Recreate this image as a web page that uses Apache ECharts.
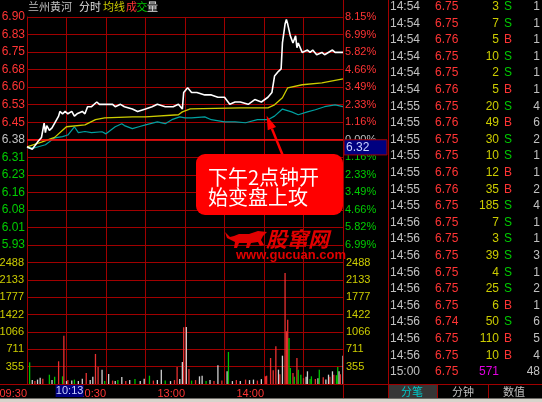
<!DOCTYPE html>
<html><head><meta charset="utf-8">
<script src="https://cdn.jsdelivr.net/npm/echarts@6/dist/echarts.min.js"></script>
<style>html,body{margin:0;padding:0;background:#000;overflow:hidden}#c{width:542px;height:402px;}</style>
</head><body><div id="c"></div>
<script>
// ---------------- data ----------------
const stockName = '兰州黄河';
const prevClose = 6.38;
const priceRange = 0.52;          // max deviation shown (6.90 / 5.86)
const volMax = 2488;

const timeTickMin = [0, 60, 120, 180];
const timeTickLabel = ['09:30', '10:30', '13:00', '14:00'];

const priceMin = [0,4,8,11,13,14,15,17,19,24,25,27,29,31,34,36,38,42,44,46,49,53,55,60,65,67,71,74,80,84,90,95,99,105,111,115,118,119,122,125,129,135,140,145,150,154,158,162,168,173,178,183,186,188,191,193,194,196,197,198,200,202,204,205,206,209,213,215,217,220,224,226,232,234,240];
const priceVal = [6.35,6.34,6.37,6.39,6.45,6.41,6.44,6.42,6.43,6.48,6.50,6.49,6.50,6.49,6.50,6.48,6.49,6.50,6.49,6.52,6.52,6.54,6.53,6.53,6.53,6.52,6.53,6.52,6.51,6.50,6.51,6.52,6.53,6.52,6.52,6.53,6.51,6.58,6.60,6.58,6.58,6.57,6.57,6.56,6.56,6.53,6.54,6.54,6.53,6.55,6.54,6.56,6.58,6.65,6.67,6.68,6.79,6.87,6.89,6.87,6.82,6.79,6.82,6.77,6.79,6.75,6.76,6.75,6.76,6.74,6.75,6.74,6.76,6.75,6.75];

const avgMin = [0,11,21,27,30,44,52,59,80,90,115,118,124,162,183,188,194,198,209,224,240];
const avgVal = [6.35,6.37,6.39,6.42,6.435,6.443,6.465,6.473,6.477,6.477,6.486,6.498,6.511,6.515,6.515,6.528,6.558,6.60,6.613,6.621,6.638];

const idxMin = [0,6,14,21,27,31,36,39,44,49,57,60,67,72,74,80,85,90,99,105,110,116,120,125,135,140,150,158,166,175,183,188,194,201,206,213,219,226,234,240];
const idxVal = [6.346,6.346,6.359,6.388,6.393,6.40,6.435,6.41,6.415,6.41,6.414,6.405,6.435,6.448,6.44,6.427,6.435,6.443,6.456,6.448,6.465,6.477,6.473,6.473,6.477,6.465,6.456,6.456,6.452,6.465,6.465,6.48,6.51,6.498,6.486,6.498,6.507,6.52,6.528,6.52];

const volMin = [2,4,6,8,10,12,17,19,21,24,27,28,30,31,34,36,39,42,45,48,50,52,54,57,59,62,65,67,69,72,75,78,82,86,89,93,96,99,102,105,109,112,114,116,118,119,121,123,125,128,131,133,136,139,142,145,148,152,153,156,159,162,166,169,172,175,178,181,182,185,187,189,191,192,194,196,197,198,199,200,202,203,205,206,208,210,212,213,215,216,219,221,222,225,227,229,230,232,233,235,236,237,238,240];
const volVal = [444,80,60,90,130,110,190,80,150,465,157,990,60,80,70,90,60,110,225,80,150,615,350,294,60,205,70,60,80,143,60,80,100,60,110,170,70,80,294,70,60,80,350,100,450,1160,1168,307,70,80,157,170,60,80,60,383,70,260,656,60,80,60,90,80,90,70,100,157,170,533,280,772,294,200,580,2275,1080,1318,943,328,225,150,533,294,191,120,150,260,100,157,100,120,294,137,90,191,150,260,191,180,348,260,200,580];
// 1 = up (red), -1 = down (green), 0 = flat (white)
const volDir = [-1,0,1,0,0,1,-1,0,-1,1,-1,1,0,1,0,-1,0,0,1,0,0,1,1,0,-1,0,1,0,-1,0,1,0,-1,0,0,-1,1,0,0,-1,0,1,1,0,0,1,0,1,-1,1,0,0,-1,0,1,0,1,0,-1,0,1,0,1,0,0,1,0,1,1,1,1,1,0,1,0,1,1,1,-1,-1,1,-1,1,-1,-1,1,0,0,-1,-1,1,0,-1,1,0,0,1,0,1,-1,-1,0,1,0];

const tickTime  = ['14:54','14:54','14:54','14:54','14:54','14:54','14:55','14:55','14:55','14:55','14:55','14:55','14:55','14:56','14:56','14:56','14:56','14:56','14:56','14:56','14:56','14:56','15:00'];
const tickPrice = ['6.75','6.75','6.76','6.75','6.75','6.76','6.75','6.76','6.75','6.75','6.76','6.76','6.75','6.75','6.75','6.75','6.75','6.75','6.75','6.74','6.75','6.75','6.75'];
const tickVol   = ['3','7','5','10','2','5','20','49','30','10','12','35','185','7','3','39','4','25','6','50','110','10','571'];
const tickSide  = ['S','S','B','S','S','B','S','B','S','S','B','B','S','S','S','S','S','S','B','S','B','B',''];
const tickCount = ['1','1','1','1','1','1','4','6','2','1','1','2','4','1','1','3','1','2','1','6','5','4','48'];

const tabLabels = ['分笔','分钟','数值'];
const noteLines = ['下午2点钟开','始变盘上攻'];
const cursorTime = '10:13';
const cursorPrice = 6.32;

// ---------------- chart ----------------
const RED = '#ff3434', GREEN = '#00cc00', GRID = '#a00000', YEL = '#cccc00', TEAL = '#00a0a0', GREY = '#c0c0c0';
const FONT = '"Liberation Sans",Arial,sans-serif';
const CJK = '"Noto Sans CJK SC","Liberation Sans",sans-serif';

const pMin = prevClose - priceRange, pMax = prevClose + priceRange, pInt = priceRange / 7;
function pColor(v) { const d = v - prevClose; if (Math.abs(d) < 1e-6) return GREY; return d > 0 ? RED : GREEN; }
const zip = (a, b) => a.map((x, i) => [x, b[i]]);

const chart = echarts.init(document.getElementById('c'), null, { renderer: 'canvas' });
const option = {
  backgroundColor: '#000',
  animation: false,
  grid: [
    { left: 27, top: 17, width: 316, height: 245.5, outerBoundsMode: 'none', containLabel: false },
    { left: 27, top: 262.5, width: 316, height: 121.5, outerBoundsMode: 'none', containLabel: false }
  ],
  xAxis: [
    { gridIndex: 0, type: 'value', min: 0, max: 240, interval: 30,
      axisLine: { show: false }, axisTick: { show: false }, axisLabel: { show: false },
      splitLine: { show: true, lineStyle: { color: GRID, width: 1 } } },
    { gridIndex: 1, type: 'value', min: 0, max: 240, interval: 30,
      axisLine: { show: false }, axisTick: { show: false },
      splitLine: { show: true, lineStyle: { color: GRID, width: 1 } },
      axisLabel: { show: true, color: RED, fontSize: 11, fontFamily: FONT, margin: 4, align: 'right',
        hideOverlap: false,
        formatter: v => { const i = timeTickMin.indexOf(v); return i < 0 ? '' : timeTickLabel[i]; } } }
  ],
  yAxis: [
    { gridIndex: 0, type: 'value', position: 'left', min: pMin, max: pMax, interval: pInt, scale: true,
      axisLine: { show: true, lineStyle: { color: GRID } }, axisTick: { show: false },
      splitLine: { show: true, lineStyle: { color: GRID, width: 1 } },
      axisLabel: { showMinLabel: false, margin: 2, fontSize: 12, fontFamily: FONT,
        formatter: v => v.toFixed(2), color: v => pColor(parseFloat(v)) } },
    { gridIndex: 0, type: 'value', position: 'right', min: pMin, max: pMax, interval: pInt, scale: true,
      axisLine: { show: false }, axisTick: { show: false }, splitLine: { show: false },
      axisLabel: { showMinLabel: false, margin: 2, fontSize: 11, fontFamily: FONT,
        formatter: v => (Math.abs(v - prevClose) / prevClose * 100).toFixed(2) + '%',
        color: v => pColor(parseFloat(v)) } },
    { gridIndex: 1, type: 'value', position: 'left', min: 0, max: volMax, interval: volMax / 7,
      axisLine: { show: true, lineStyle: { color: GRID } }, axisTick: { show: false },
      splitLine: { show: true, lineStyle: { color: GRID, width: 1 } },
      axisLabel: { showMinLabel: false, margin: 3, fontSize: 11, fontFamily: FONT, color: YEL,
        formatter: v => String(Math.round(v)) } },
    { gridIndex: 1, type: 'value', position: 'right', min: 0, max: volMax, interval: volMax / 7,
      axisLine: { show: false }, axisTick: { show: false }, splitLine: { show: false },
      axisLabel: { showMinLabel: false, margin: 3, fontSize: 11, fontFamily: FONT, color: YEL,
        formatter: v => String(Math.round(v)) } }
  ],
  series: [
    { type: 'line', name: 'index', xAxisIndex: 0, yAxisIndex: 0, data: zip(idxMin, idxVal),
      showSymbol: false, lineStyle: { color: TEAL, width: 1.2 }, z: 3,
      markLine: { silent: true, symbol: 'none', label: { show: false },
        lineStyle: { color: '#ff1010', width: 1.5, type: 'solid' }, data: [{ yAxis: prevClose }] } },
    { type: 'line', name: 'avg', xAxisIndex: 0, yAxisIndex: 0, data: zip(avgMin, avgVal),
      showSymbol: false, lineStyle: { color: YEL, width: 1.3 }, z: 4 },
    { type: 'line', name: 'price', xAxisIndex: 0, yAxisIndex: 0, data: zip(priceMin, priceVal),
      showSymbol: false, lineStyle: { color: '#ffffff', width: 1.6 }, z: 5 },
    { type: 'bar', name: 'vol', xAxisIndex: 1, yAxisIndex: 2, barWidth: 1.3,
      data: volMin.map((m, i) => ({ value: [m, volVal[i]],
        itemStyle: { color: volDir[i] > 0 ? '#e83030' : (volDir[i] < 0 ? '#00c000' : '#d0d0d0') } })), z: 3 }
  ]
};
chart.setOption(option);

// ---------------- annotations / side panel ----------------
const g = [];
function txt(x, y, s, color, size, align, font, extra, z) {
  g.push({ type: 'text', x: x, y: y, z: z || 50,
    style: { text: s, fill: color, font: (extra || '') + ' ' + size + 'px ' + (font || FONT), align: align || 'left', verticalAlign: 'middle' } });
}
function line(x1, y1, x2, y2, color, w) {
  g.push({ type: 'line', z: 40, shape: { x1, y1, x2, y2 }, style: { stroke: color, lineWidth: w || 1 } });
}
// frame lines
line(343.5, 0, 343.5, 398, GRID, 1);
line(388.5, 0, 388.5, 398, GRID, 1);
line(0, 384.5, 542, 384.5, GRID, 1);
// title
txt(28, 7, stockName, GREY, 11, 'left', CJK);
txt(79, 7, '分时', '#e0e0e0', 11, 'left', CJK);
txt(103, 7, '均线', YEL, 11, 'left', CJK);
txt(126, 7, '成', RED, 11, 'left', CJK);
txt(136.5, 7, '交', GREEN, 11, 'left', CJK);
txt(147, 7, '量', '#e0e0e0', 11, 'left', CJK);
// tick list
for (let i = 0; i < tickTime.length; i++) {
  const y = 6.7 + 16.6 * i;
  txt(390, y, tickTime[i], GREY, 12);
  txt(435, y, tickPrice[i], pColor(parseFloat(tickPrice[i])), 12);
  txt(499, y, tickVol[i], tickSide[i] ? YEL : '#e000e0', 12, 'right');
  if (tickSide[i]) txt(504, y, tickSide[i], tickSide[i] === 'S' ? GREEN : RED, 12);
  txt(540, y, tickCount[i], GREY, 12, 'right');
}
// tabs
g.push({ type: 'rect', z: 30, shape: { x: 389, y: 385, width: 48, height: 13 }, style: { fill: '#363636' } });
line(437.5, 385, 437.5, 398, GRID, 1);
line(488.5, 385, 488.5, 398, GRID, 1);
txt(412, 392, tabLabels[0], '#00c8c8', 11, 'center', CJK);
txt(463, 392, tabLabels[1], GREY, 11, 'center', CJK);
txt(514, 392, tabLabels[2], GREY, 11, 'center', CJK);
g.push({ type: 'rect', z: 60, shape: { x: 0, y: 398.5, width: 542, height: 4 }, style: { fill: '#d8d4cc' } });

// cursor boxes (positions from chart scales)
const cx = chart.convertToPixel({ gridIndex: 1 }, [43, 0])[0];
g.push({ type: 'rect', z: 55, shape: { x: cx - 28, y: 385, width: 28, height: 12 }, style: { fill: '#000080' } });
txt(cx - 14, 391, cursorTime, '#c8d0ff', 11, 'center', FONT, '', 58);
const y0 = chart.convertToPixel({ gridIndex: 0 }, [0, prevClose])[1];
const y1 = chart.convertToPixel({ gridIndex: 0 }, [0, cursorPrice])[1];
g.push({ type: 'rect', z: 55, shape: { x: 344, y: y0, width: 43, height: (y1 - y0) + 1 }, style: { fill: '#000080', stroke: GRID, lineWidth: 1 } });
txt(346, (y0 + y1) / 2 + 0.5, cursorPrice.toFixed(2), '#c8d0ff', 12, 'left', FONT, '', 58);

// note box + arrow
const tip = chart.convertToPixel({ gridIndex: 0 }, [182, 6.482]);
const tail = [283, 156];
const dx = tail[0] - tip[0], dy = tail[1] - tip[1], L = Math.sqrt(dx * dx + dy * dy);
const ux = dx / L, uy = dy / L, px = -uy, py = ux;
const hb = [tip[0] + ux * 14, tip[1] + uy * 14];
g.push({ type: 'polygon', z: 45, shape: { points: [tip, [hb[0] + px * 4.5, hb[1] + py * 4.5], [hb[0] - px * 4.5, hb[1] - py * 4.5]] }, style: { fill: '#ff0000' } });
g.push({ type: 'line', z: 45, shape: { x1: hb[0], y1: hb[1], x2: tail[0], y2: tail[1] }, style: { stroke: '#ff0000', lineWidth: 2.5 } });
g.push({ type: 'rect', z: 46, shape: { x: 196, y: 154, width: 147, height: 61, r: 9 }, style: { fill: '#ff0000' } });
txt(208, 177, noteLines[0], '#ffffff', 20, 'left', CJK, '', 52);
txt(208, 197, noteLines[1], '#ffffff', 20, 'left', CJK, '', 52);

// watermark
const bull = [[0,1],[5,6],[9,5],[14,3],[24,3],[33,0],[42,1],[38,5],[36,9],[39,14],[35,15],[33,11],[26,12],[24,17],[21,17],[22,12],[14,12],[12,17],[9,17],[10,11],[6,9],[2,7]];
g.push({ type: 'polygon', z: 45, shape: { points: bull.map(p => [225 + p[0], 231 + p[1]]) }, style: { fill: '#e00000' } });
txt(266, 239, '股窜网', '#e00000', 21, 'left', CJK, 'italic bold');
txt(236, 255, 'www.gucuan.com', '#e00000', 13, 'left', FONT, 'bold');

chart.setOption({ graphic: { elements: g } });
</script>
</body></html>
